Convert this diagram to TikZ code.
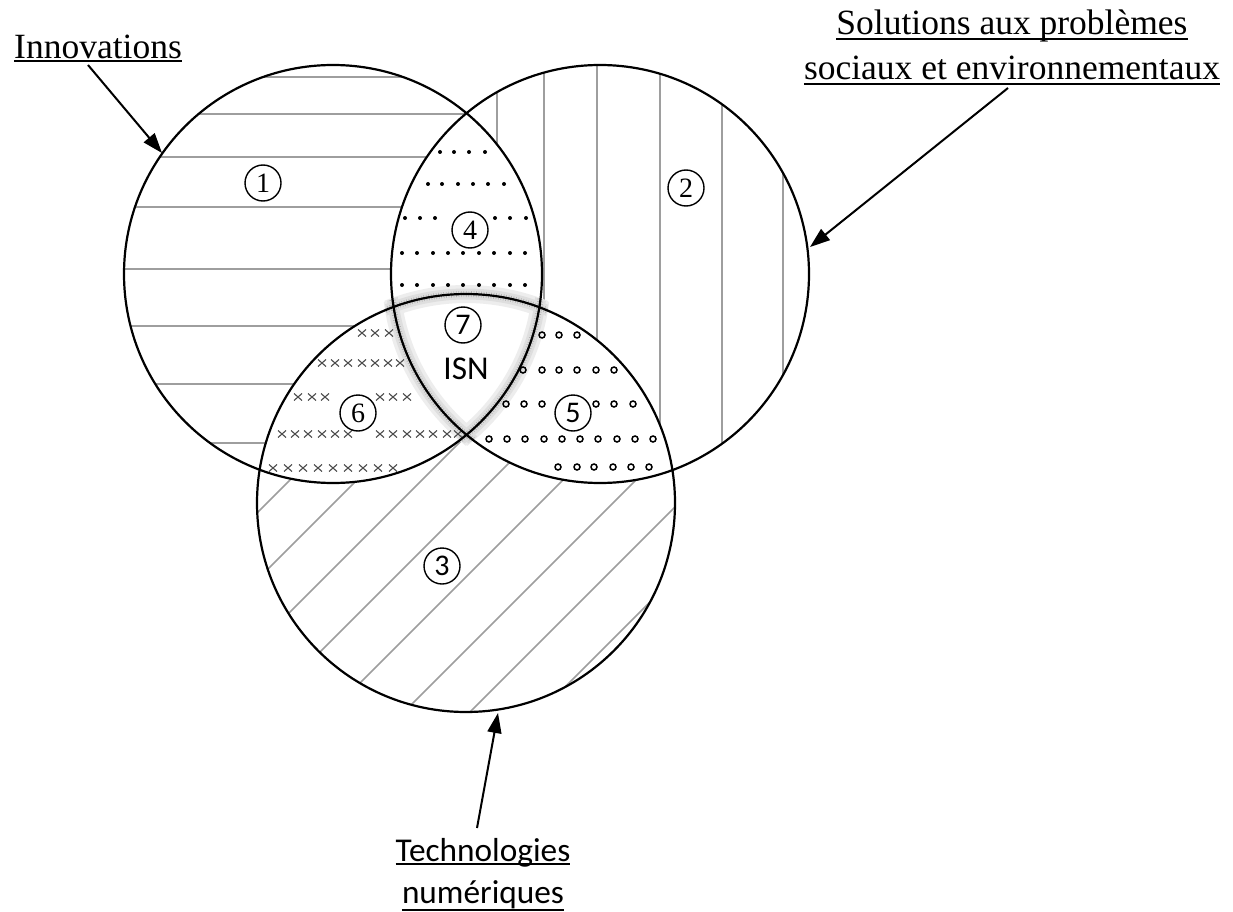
\documentclass[tikz,border=0pt]{standalone}
\usepackage{fontspec}
\setmainfont{Liberation Serif}
\newfontfamily\calib{Carlito}
\usetikzlibrary{arrows.meta}
\begin{document}
\begin{tikzpicture}[x=1pt,y=-1pt,
  hatch/.style={draw=black!38, line width=1.5pt},
  outline/.style={draw=black, line width=2.2pt},
  numc/.style={circle, draw=black, line width=1.4pt, minimum size=36pt, inner sep=0pt, fill=white},
  numser/.style={numc, font={\fontsize{28}{30}\selectfont}},
  numsan/.style={numc, font={\calib\fontsize{30}{30}\selectfont}},
  lbl/.style={inner sep=0pt, font={\fontsize{35.5}{40}\selectfont}},
  slbl/.style={inner sep=0pt, font={\calib\fontsize{33.3}{40}\selectfont}},
  ul/.style={line width=2pt},
  arr/.style={line width=2pt, -{Triangle[length=20pt,width=14pt]}},
  haloa/.style={draw=black!7, line width=18pt},
  halo/.style={draw=black!13, line width=11pt},
  halob/.style={draw=black!30, line width=6pt, dash pattern=on 0.7pt off 1.8pt},
  dotm/.style={fill=black},
  ringm/.style={draw=black, line width=1.5pt},
  crossm/.style={draw=black!70, line width=1.1pt}
]
\useasboundingbox (0,0) rectangle (1233,912);
\fill[white] (0,0) rectangle (1233,912);

\coordinate (C1) at (333,274);
\coordinate (C2) at (600,274);
\coordinate (C3) at (466,503);

% hatching region 1 (horizontal)
\begin{scope}
  \clip (C1) circle (209);
  \foreach \yy in {77,114,157,207,269,326,384,443}
    \draw[hatch] (100,\yy) -- (560,\yy);
\end{scope}
% hatching region 2 (vertical)
\begin{scope}
  \clip (C2) circle (209);
  \foreach \xx in {497,544,597,660,722,783}
    \draw[hatch] (\xx,50) -- (\xx,500);
\end{scope}
% hatching region 3 (diagonal)
\begin{scope}
  \clip (C3) circle (209);
  \foreach \cc in {700,770,837,902,972,1043,1116,1182,1252}
    \draw[hatch] ({\cc-760},760) -- ({\cc-250},250);
\end{scope}
% blank the pairwise overlaps
\begin{scope}
  \clip (C1) circle (209);
  \fill[white] (C2) circle (209);
  \fill[white] (C3) circle (209);
\end{scope}
\begin{scope}
  \clip (C2) circle (209);
  \fill[white] (C3) circle (209);
\end{scope}

% halo round the central region
\foreach \hs in {haloa,halo,halob}{
\begin{scope}
  \clip (C1) circle (217); \clip (C2) circle (217);
  \draw[\hs] (C3) circle (209);
\end{scope}
\begin{scope}
  \clip (C2) circle (217); \clip (C3) circle (217);
  \draw[\hs] (C1) circle (209);
\end{scope}
\begin{scope}
  \clip (C1) circle (217); \clip (C3) circle (217);
  \draw[\hs] (C2) circle (209);
\end{scope}
}

% region 4: dots
\foreach \xx in {440,454,469,485} \fill[dotm] (\xx,152) circle (2);
\foreach \xx in {428,442,458,473,488,504} \fill[dotm] (\xx,184) circle (2);
\foreach \xx in {405,420,435,495,510,526} \fill[dotm] (\xx,218) circle (2);
\foreach \xx in {402,417,433,448,463,479,494,510,525} \fill[dotm] (\xx,253) circle (2);
\foreach \xx in {402,417,433,448,463,479,494,510,525} \fill[dotm] (\xx,285) circle (2);

% region 5: rings
\foreach \xx in {542,559,577} \draw[ringm] (\xx,335) circle (3);
\foreach \xx in {523,542,559,577,596,614} \draw[ringm] (\xx,370) circle (3);
\foreach \xx in {506,524,542,596,614,633} \draw[ringm] (\xx,404) circle (3);
\foreach \xx in {489,507,525,544,562,580,598,617,635,653} \draw[ringm] (\xx,439) circle (3);
\foreach \xx in {558,577,594,613,631,649} \draw[ringm] (\xx,467) circle (3);

% region 6: crosses
\foreach \xx/\yy in {362/333,375/333,389/333,
  322/363,335/363,348/363,362/363,375/363,388/363,400/363,
  298/397,312/397,325/397,380/397,393/397,407/397,
  282/434,295/434,308/434,322/434,335/434,348/434,380/434,393/434,407/434,420/434,433/434,447/434,458/434,
  273/468,288/468,303/468,318/468,333/468,348/468,363/468,378/468,393/468}
  \draw[crossm] (\xx-4,\yy-3.5) -- (\xx+4,\yy+3.5) (\xx-4,\yy+3.5) -- (\xx+4,\yy-3.5);

% circle outlines
\draw[outline] (C1) circle (209);
\draw[outline] (C2) circle (209);
\draw[outline] (C3) circle (209);

% region numbers
\node[numser] (n1) at (263,183) {1};
\node[numser] (n2) at (686,188) {2};
\node[numsan] (n3) at (442,566) {3};
\node[numser] (n4) at (470,230) {4};
\node[numsan] (n5) at (573,413) {5};
\node[numser] (n6) at (358,413) {6};
\node[numsan] (n7) at (463,325) {7};
\node[slbl] (isn) at (466,369) {ISN};

% labels
\node[lbl, anchor=base west] (innov) at (14,59) {Innovations};
\node[lbl, anchor=base] (sol1) at (1012,35) {Solutions aux problèmes};
\node[lbl, anchor=base] (sol2) at (1012,80) {sociaux et environnementaux};
\node[slbl, anchor=base] (tec1) at (483,861) {Technologies};
\node[slbl, anchor=base] (tec2) at (483,903) {numériques};

\foreach \nn/\dd in {innov/2.5,sol1/3.8,sol2/4.5,tec1/3,tec2/6.5}
  \draw[ul] ([yshift=-\dd pt]\nn.base west) -- ([yshift=-\dd pt]\nn.base east);

% arrows
\coordinate (s1) at (88,65);
\coordinate (t1) at (162,153);
\coordinate (s2) at (1008,88);
\coordinate (t2) at (810,247);
\coordinate (s3) at (477,828);
\coordinate (t3) at (498,713);
\draw[arr] (s1) -- (t1);
\draw[arr] (s2) -- (t2);
\draw[arr] (s3) -- (t3);
\end{tikzpicture}
\end{document}
